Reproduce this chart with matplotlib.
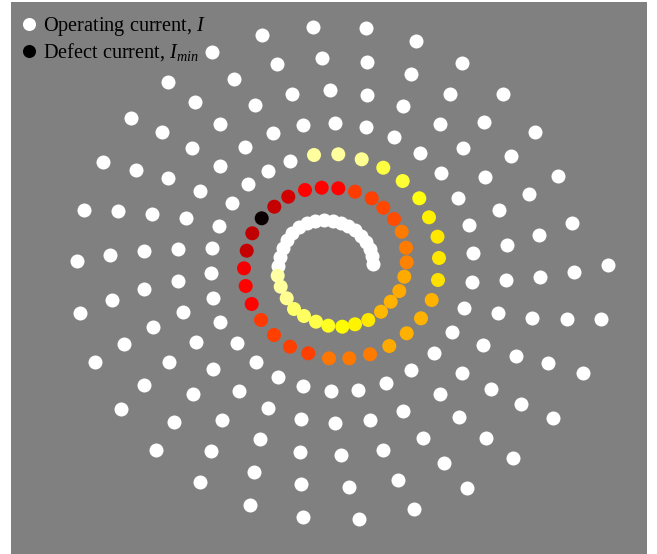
import matplotlib
matplotlib.use("Agg")
import matplotlib.pyplot as plt
from matplotlib.lines import Line2D

plt.rcParams["font.family"] = ["Liberation Serif", "DejaVu Serif"]
plt.rcParams["mathtext.fontset"] = "custom"
plt.rcParams["mathtext.rm"] = "Liberation Serif"
plt.rcParams["mathtext.it"] = "Liberation Serif:italic"

# Innermost, tightly wound part of the spiral (operating current, white)
core_x = [373, 372, 370, 366, 361, 355, 348, 341, 333, 324, 315, 307, 299, 292, 287, 283, 280, 278]
core_y = [264, 256, 249, 242, 236, 230, 226, 223, 221, 220, 221, 223, 227, 233, 240, 248, 257, 266]

# Scanned section of the spiral, with the normalised current at each point
scan_x = [277.7, 280.7, 286.7, 294.0, 304.0, 316.0, 328.3, 342.3, 355.0, 368.3,
          381.0, 390.7, 399.3, 404.3, 406.7, 406.0, 401.7, 394.0, 383.3, 371.7,
          355.0, 338.3, 321.7, 305.0, 288.3, 274.3, 261.7, 252.3, 246.7, 244.0,
          245.7, 251.7, 261.0, 274.0, 290.0, 308.3, 329.0, 349.3, 370.0, 389.3,
          406.7, 421.0, 431.7, 438.0, 439.0, 437.5, 429.0, 419.3, 402.7, 383.3,
          361.7, 338.3, 314.0]
scan_y = [275.7, 286.7, 298.3, 309.0, 316.0, 321.7, 325.7, 326.7, 324.3, 320.0,
          311.7, 301.7, 291.0, 276.7, 262.3, 247.7, 231.7, 219.0, 207.7, 198.3,
          191.7, 188.3, 187.7, 190.0, 196.7, 206.7, 218.3, 233.3, 250.7, 268.3,
          286.0, 304.0, 320.0, 335.0, 346.7, 353.3, 358.3, 358.3, 354.3, 346.0,
          333.3, 318.3, 300.0, 280.0, 258.0, 236.7, 217.3, 198.3, 181.0, 167.7,
          159.3, 154.3, 155.0]
scan_current = [0.91, 0.90, 0.89, 0.85, 0.84, 0.82, 0.78, 0.74, 0.73, 0.71,
                0.64, 0.63, 0.62, 0.62, 0.56, 0.55, 0.55, 0.48, 0.47, 0.46,
                0.455, 0.37, 0.37, 0.37, 0.30, 0.28, 0.0, 0.27, 0.28, 0.35,
                0.37, 0.37, 0.45, 0.46, 0.46, 0.46, 0.54, 0.545, 0.55, 0.62,
                0.625, 0.63, 0.63, 0.70, 0.71, 0.71, 0.72, 0.76, 0.80, 0.81,
                0.89, 0.90, 0.90]

# Outer turns of the spiral (operating current, white)
outer_x = [290.0, 268.3, 248.3, 231.7, 219.0, 212.3, 210.7, 213.3, 220.0, 237.3,
           255.7, 278.3, 303.3, 331.0, 358.3, 385.7, 411.0, 434.0, 451.7, 464.3,
           472.3, 473.3, 469.3, 458.3, 441.0, 420.0, 394.3, 365.7, 335.0, 303.3,
           273.3, 245.0, 220.0, 200.0, 186.0, 178.3, 177.7, 182.7, 196.0, 213.0,
           239.3, 268.3, 301.0, 335.0, 370.0, 403.3, 440.0, 461.7, 482.7, 498.3,
           506.0, 506.7, 499.3, 485.0, 463.3, 440.0, 403.3, 367.3, 330.0, 291.7,
           254.7, 220.0, 191.7, 168.3, 152.3, 144.3, 144.3, 152.7, 169.3, 193.3,
           222.0, 260.0, 300.0, 341.0, 382.7, 422.7, 459.3, 490.7, 515.7, 532.3,
           540.0, 539.3, 529.3, 510.7, 484.0, 450.0, 410.7, 367.3, 322.3, 277.3,
           234.3, 195.0, 162.3, 135.7, 118.3, 110.0, 112.3, 124.0, 144.3, 174.0,
           211.0, 254.3, 300.7, 349.3, 397.7, 444.0, 485.7, 521.0, 548.3, 566.7,
           574.0, 571.7, 558.3, 535.0, 502.7, 462.3, 416.0, 365.7, 313.3, 261.7,
           212.3, 168.3, 131.0, 103.3, 84.0, 76.7, 80.0, 95.0, 121.0, 156.0,
           200.0, 250.0, 303.3, 359.3, 414.3, 466.7, 513.3, 553.3, 582.7, 601.0,
           607.7]
outer_y = [161.0, 171.0, 184.0, 203.3, 226.0, 248.3, 273.3, 298.3, 322.0, 343.3,
           361.7, 376.7, 386.0, 391.0, 390.0, 382.7, 370.0, 353.0, 331.7, 308.3,
           281.7, 252.7, 225.0, 198.3, 173.0, 153.3, 137.0, 127.0, 122.7, 124.7,
           132.7, 146.7, 166.0, 191.0, 218.3, 249.0, 280.7, 311.7, 341.7, 369.0,
           390.7, 407.7, 419.0, 422.7, 420.0, 410.7, 394.0, 373.3, 345.0, 313.3,
           280.0, 245.0, 210.0, 177.3, 148.3, 124.0, 106.0, 95.0, 90.0, 94.3,
           105.3, 124.0, 147.7, 178.3, 214.0, 251.0, 289.3, 327.3, 361.7, 394.0,
           420.0, 439.3, 451.7, 455.0, 450.0, 437.7, 416.7, 389.0, 355.7, 317.7,
           276.7, 235.0, 194.3, 155.7, 122.3, 94.3, 74.0, 61.7, 58.3, 64.0,
           78.7, 101.7, 132.3, 170.0, 211.0, 255.0, 300.0, 344.0, 385.0, 421.7,
           450.7, 471.7, 484.3, 486.7, 480.0, 463.0, 438.3, 404.3, 363.3, 319.3,
           271.7, 223.3, 176.0, 132.3, 94.3, 63.3, 41.0, 28.3, 26.7, 34.7,
           52.3, 81.7, 118.3, 162.3, 210.0, 261.0, 312.7, 362.3, 409.3, 450.0,
           481.7, 505.0, 517.3, 519.0, 509.0, 488.3, 457.7, 418.3, 372.7, 319.3,
           265.0]

legend_labels = ["Operating current, $I$", "Defect current, $I_{min}$"]

W, H = 657, 554
fig = plt.figure(figsize=(W / 100, H / 100), dpi=100, facecolor="white")
ax = fig.add_axes([11 / W, 0, (647 - 11) / W, (H - 2) / H])
ax.set_facecolor("#808080")
ax.set_xlim(11, 647)
ax.set_ylim(554, 2)
for s in ax.spines.values():
    s.set_visible(False)
ax.set_xticks([])
ax.set_yticks([])

dot = 101.6  # 14 px markers
ax.scatter(core_x, core_y, s=dot, c="white", linewidths=0, zorder=2)
ax.scatter(outer_x, outer_y, s=dot, c="white", linewidths=0, zorder=2)
ax.scatter(scan_x, scan_y, s=dot, c=scan_current, cmap="hot", vmin=0, vmax=1,
           linewidths=0, zorder=3)

handles = [
    Line2D([], [], marker="o", linestyle="none", markersize=9.4,
           markerfacecolor="white", markeredgewidth=0),
    Line2D([], [], marker="o", linestyle="none", markersize=9.4,
           markerfacecolor="black", markeredgewidth=0),
]
ax.legend(handles, legend_labels, loc="upper left", bbox_to_anchor=(0.008, 0.987),
          frameon=False, fontsize=14.6, handlelength=0.7, handletextpad=0.35,
          labelspacing=0.15, borderpad=0.3, borderaxespad=0.0)

fig.savefig("out.png", dpi=100, facecolor="white")
